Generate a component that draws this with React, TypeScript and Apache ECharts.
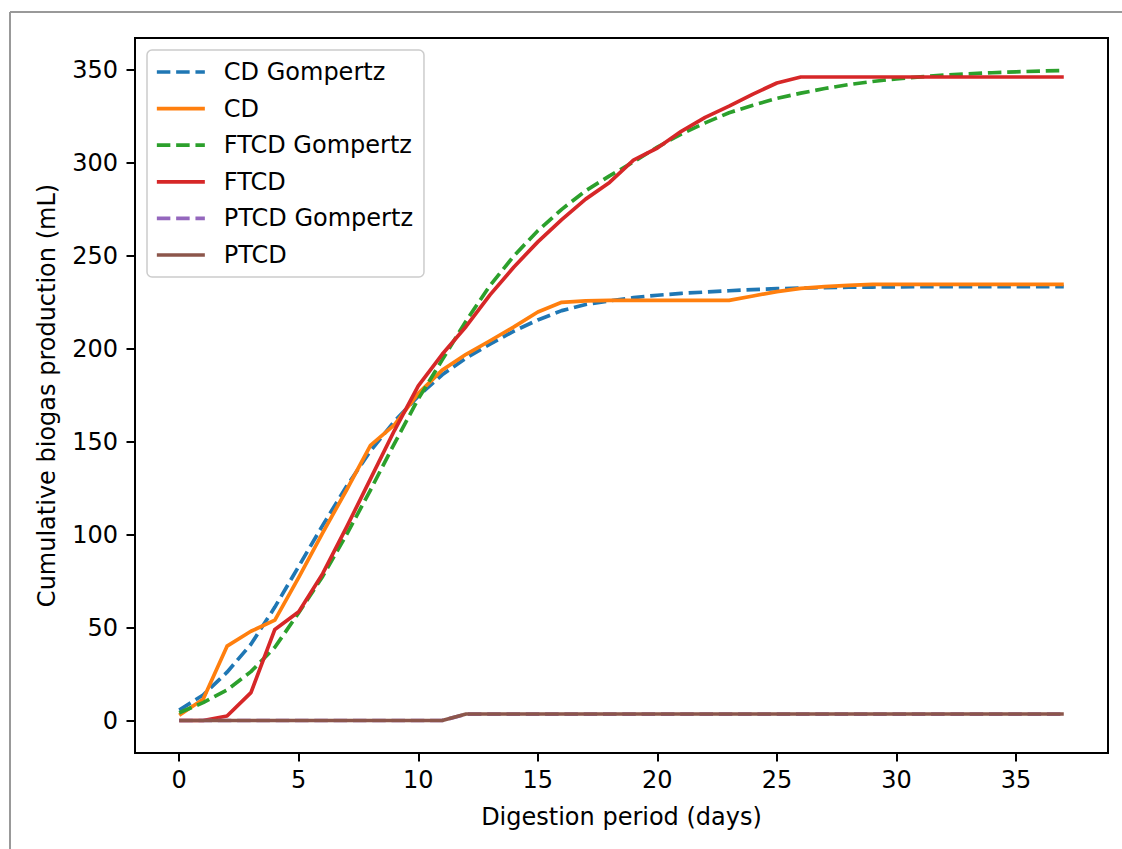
import React, { useEffect, useRef } from "react";
import * as echarts from "echarts";

const days = [0, 1, 2, 3, 4, 5, 6, 7, 8, 9, 10, 11, 12, 13, 14, 15, 16, 17, 18, 19, 20, 21, 22, 23, 24, 25, 26, 27, 28, 29, 30, 31, 32, 33, 34, 35, 36, 37];

const cdGompertz = [5.6, 13.7, 26, 41, 61, 83, 105, 126, 145, 161, 174.5, 186, 195, 202.5, 209.5, 215.5, 220.5, 223.8, 225.8, 227.5, 228.8, 229.8, 230.5, 231.2, 231.8, 232.3, 232.6, 232.9, 233.1, 233.2, 233.3, 233.4, 233.4, 233.4, 233.4, 233.4, 233.4, 233.4];
const cd = [2.8, 11.4, 40, 48, 54, 77, 101, 124, 148, 159, 176, 188.5, 197, 204.3, 211.8, 219.8, 225, 225.8, 226, 226, 226, 226, 226, 226, 228.4, 230.7, 232.5, 233.4, 234.1, 234.6, 234.6, 234.6, 234.6, 234.6, 234.6, 234.6, 234.6, 234.6];
const ftcdGompertz = [4.2, 9.6, 16.4, 26.3, 39.4, 58, 77.5, 100, 124, 149, 173, 194, 215, 234, 250, 263.5, 275, 285, 293, 300.5, 308.5, 315.5, 321.5, 327, 331, 334.7, 337.5, 340, 342.1, 343.8, 345.2, 346.3, 347.2, 347.9, 348.5, 349, 349.4, 349.7];
const ftcd = [0, 0, 2.4, 15, 49, 58.5, 79, 104, 130, 156, 180, 197, 212, 229, 244, 257.5, 269.5, 280.5, 289.5, 301.5, 308, 317, 324.5, 330.5, 337, 343, 346.2, 346.2, 346.2, 346.2, 346.2, 346.2, 346.2, 346.2, 346.2, 346.2, 346.2, 346.2];
const ptcdGompertz = [0, 0, 0, 0, 0, 0, 0, 0, 0, 0, 0, 0, 3.4, 3.4, 3.4, 3.4, 3.4, 3.4, 3.4, 3.4, 3.4, 3.4, 3.4, 3.4, 3.4, 3.4, 3.4, 3.4, 3.4, 3.4, 3.4, 3.4, 3.4, 3.4, 3.4, 3.4, 3.4, 3.4];
const ptcd = [0, 0, 0, 0, 0, 0, 0, 0, 0, 0, 0, 0, 3.5, 3.5, 3.5, 3.5, 3.5, 3.5, 3.5, 3.5, 3.5, 3.5, 3.5, 3.5, 3.5, 3.5, 3.5, 3.5, 3.5, 3.5, 3.5, 3.5, 3.5, 3.5, 3.5, 3.5, 3.5, 3.5];

const xTicks = [0, 5, 10, 15, 20, 25, 30, 35];
const yTicks = [0, 50, 100, 150, 200, 250, 300, 350];

const seriesNames = ["CD Gompertz", "CD", "FTCD Gompertz", "FTCD", "PTCD Gompertz", "PTCD"];
const seriesValues = [cdGompertz, cd, ftcdGompertz, ftcd, ptcdGompertz, ptcd];
const seriesColors = ["#1f77b4", "#ff7f0e", "#2ca02c", "#d62728", "#9467bd", "#8c564b"];
const seriesDashed = [true, false, true, false, true, false];

const FONT = "DejaVu Sans";
const LW = 3.7;

export default function App() {
  const ref = useRef<HTMLDivElement>(null);

  useEffect(() => {
    if (!ref.current) return;
    const chart = echarts.init(ref.current, null, { renderer: "svg" });

    const series = seriesNames.map((name, i) => ({
      name,
      type: "line",
      data: days.map((d, j) => [d, seriesValues[i][j]]),
      symbol: "none",
      showSymbol: false,
      silent: true,
      itemStyle: { color: seriesColors[i] },
      lineStyle: {
        color: seriesColors[i],
        width: LW,
        type: seriesDashed[i] ? [13.5, 5.8] : "solid",
        cap: "butt",
        join: "round",
      },
    }));

    const axisText = { fontFamily: FONT, fontSize: 24, color: "#000" };

    chart.setOption({
      animation: false,
      backgroundColor: "#fff",
      grid: {
        left: 135,
        right: 14,
        top: 38,
        bottom: 96,
        show: true,
        borderColor: "#000",
        borderWidth: 2,
        backgroundColor: "transparent",
        containLabel: false,
      },
      legend: {
        orient: "vertical",
        left: 147,
        top: 50,
        itemWidth: 48,
        itemHeight: 24,
        itemGap: 12.6,
        padding: [10, 11, 10, 8],
        borderColor: "#cccccc",
        borderWidth: 1.5,
        borderRadius: 5,
        backgroundColor: "rgba(255,255,255,0.8)",
        itemStyle: { opacity: 0 },
        lineStyle: { width: LW, cap: "butt" },
        textStyle: { fontFamily: FONT, fontSize: 24, color: "#000", lineHeight: 24, padding: [0, 0, 0, 14] },
        data: seriesNames,
        selectedMode: false,
      },
      xAxis: {
        type: "value",
        min: -1.85,
        max: 38.85,
        name: "Digestion period (days)",
        nameLocation: "middle",
        nameGap: 52,
        nameTextStyle: axisText,
        axisLine: { show: false, onZero: false },
        axisTick: { show: true, length: 8.5, lineStyle: { color: "#000", width: 2 }, customValues: xTicks },
        axisLabel: { ...axisText, margin: 15, customValues: xTicks },
        splitLine: { show: false },
      },
      yAxis: {
        type: "value",
        min: -17.485,
        max: 367.185,
        name: "Cumulative biogas production (mL)",
        nameLocation: "middle",
        nameGap: 76,
        nameTextStyle: axisText,
        axisLine: { show: false, onZero: false },
        axisTick: { show: true, length: 8.5, lineStyle: { color: "#000", width: 2 }, customValues: yTicks },
        axisLabel: { ...axisText, margin: 17, customValues: yTicks },
        splitLine: { show: false },
      },
      graphic: [
        { type: "line", shape: { x1: 10, y1: 12, x2: 1122, y2: 12 }, style: { stroke: "#999", lineWidth: 2 }, silent: true },
        { type: "line", shape: { x1: 10, y1: 12, x2: 10, y2: 849 }, style: { stroke: "#999", lineWidth: 2 }, silent: true },
      ],
      series,
    });

    return () => chart.dispose();
  }, []);

  return (
    <div
      ref={ref}
      style={{ position: "fixed", left: 0, top: 0, width: 1122, height: 849, background: "#fff" }}
    />
  );
}
